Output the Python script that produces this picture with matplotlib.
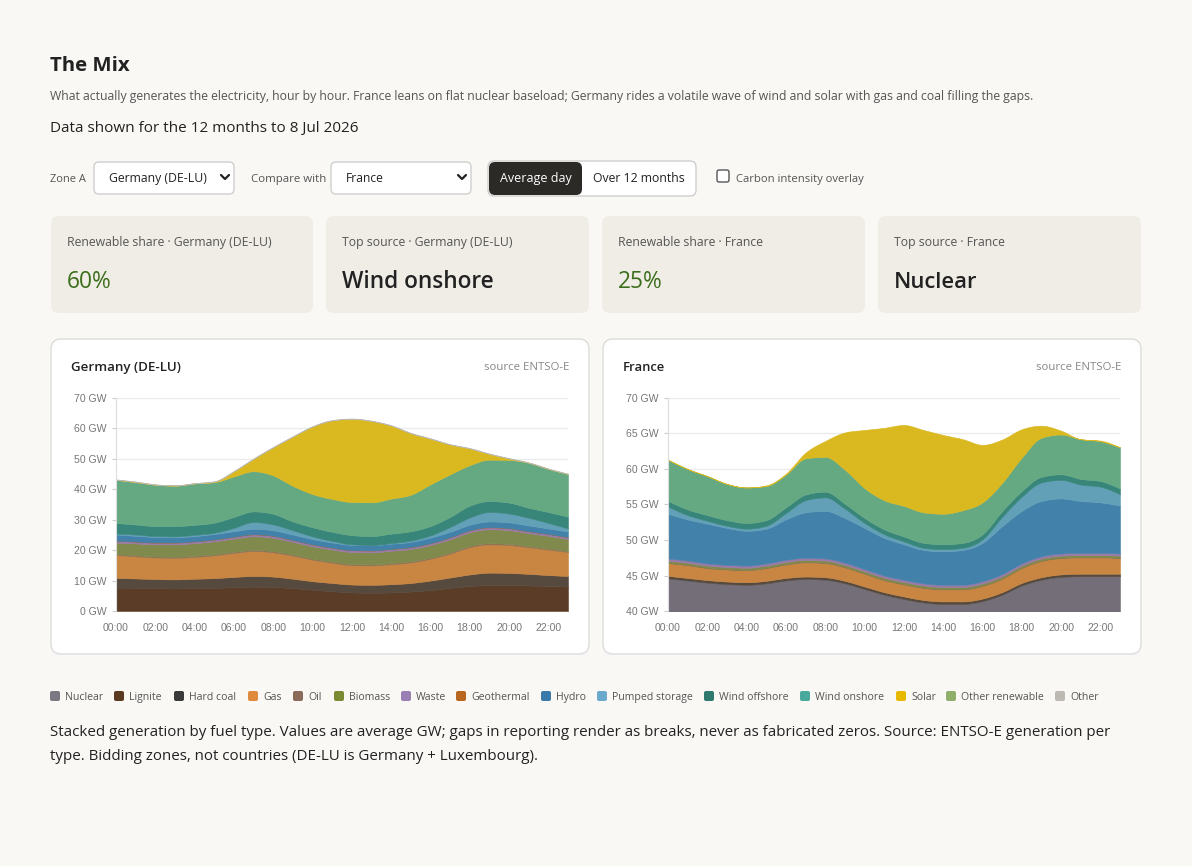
import numpy as np
import matplotlib
matplotlib.use("Agg")
import matplotlib.pyplot as plt
from matplotlib.patches import FancyBboxPatch
from matplotlib.ticker import FuncFormatter

# ---------------- data ----------------
HOURS = [0, 1, 2, 3, 4, 5, 6, 7, 8, 9, 10, 11, 12, 13, 14, 15, 16, 17, 18, 19, 20, 21, 22, 23]
HOUR_TICKS = [0, 2, 4, 6, 8, 10, 12, 14, 16, 18, 20, 22]
HOUR_LABELS = ["00:00", "02:00", "04:00", "06:00", "08:00", "10:00",
               "12:00", "14:00", "16:00", "18:00", "20:00", "22:00"]

FUELS = ["Nuclear", "Lignite", "Hard coal", "Gas", "Oil", "Biomass", "Waste",
         "Geothermal", "Hydro", "Pumped storage", "Wind offshore", "Wind onshore",
         "Solar", "Other renewable", "Other"]

# Germany (DE-LU), average GW by hour
de_nuclear = [0] * 24
de_lignite = [7.7, 7.6, 7.5, 7.4, 7.5, 7.6, 7.8, 8.0, 7.9, 7.5, 7.0, 6.5, 6.1, 6.0, 6.1, 6.4, 6.9, 7.6, 8.2, 8.5, 8.5, 8.4, 8.2, 8.0]
de_hard_coal = [3.2, 3.1, 3.0, 3.0, 3.1, 3.2, 3.4, 3.5, 3.4, 3.1, 2.8, 2.7, 2.6, 2.6, 2.7, 2.8, 3.1, 3.4, 3.8, 4.1, 4.0, 3.8, 3.6, 3.5]
de_gas = [7.5, 7.3, 7.1, 7.1, 7.2, 7.5, 7.9, 8.2, 8.0, 7.6, 7.1, 6.7, 6.4, 6.4, 6.6, 6.8, 7.2, 7.9, 9.0, 9.3, 9.2, 8.8, 8.4, 7.9]
de_oil = [0.3, 0.3, 0.3, 0.3, 0.3, 0.3, 0.3, 0.35, 0.35, 0.3, 0.3, 0.3, 0.3, 0.3, 0.3, 0.3, 0.3, 0.35, 0.35, 0.35, 0.35, 0.3, 0.3, 0.3]
de_biomass = [3.8, 3.9, 4.0, 4.1, 4.2, 4.3, 4.4, 4.5, 4.4, 4.2, 4.1, 4.0, 4.0, 4.0, 4.1, 4.1, 4.2, 4.3, 4.5, 4.6, 4.5, 4.3, 4.2, 4.0]
de_waste = [0.6, 0.6, 0.6, 0.6, 0.6, 0.6, 0.6, 0.65, 0.65, 0.6, 0.6, 0.6, 0.6, 0.6, 0.6, 0.6, 0.6, 0.65, 0.65, 0.65, 0.65, 0.6, 0.6, 0.6]
de_geothermal = [0.02, 0.02, 0.02, 0.02, 0.02, 0.02, 0.02, 0.02, 0.02, 0.02, 0.02, 0.02, 0.02, 0.02, 0.02, 0.02, 0.02, 0.02, 0.02, 0.02, 0.02, 0.02, 0.02, 0.02]
de_hydro = [2.0, 1.9, 1.8, 1.7, 1.7, 1.8, 1.8, 1.8, 1.8, 1.8, 1.7, 1.7, 1.7, 1.7, 1.7, 1.7, 1.8, 1.8, 1.8, 1.9, 1.9, 1.9, 1.8, 1.8]
de_pumped = [0.3, 0.4, 0.3, 0.3, 0.4, 0.4, 1.1, 2.2, 1.9, 1.4, 0.9, 0.5, 0.2, 0.1, 0.2, 0.4, 0.7, 1.6, 2.4, 3.1, 2.9, 2.5, 1.8, 1.0]
de_wind_off = [3.5, 3.3, 3.3, 3.4, 3.3, 3.3, 3.6, 3.5, 3.5, 2.9, 3.0, 3.0, 3.0, 2.9, 3.1, 3.1, 3.1, 3.3, 3.9, 3.6, 3.6, 3.3, 3.6, 3.9]
de_wind_on = [14.2, 13.9, 13.6, 13.3, 13.6, 13.3, 13.3, 13.2, 12.6, 11.7, 10.9, 10.8, 10.9, 11.1, 11.5, 12.0, 13.7, 14.0, 13.3, 13.6, 14.0, 14.8, 14.2, 14.0]
de_solar = [0, 0.1, 0, 0, 0, 0.2, 1.7, 4.1, 9.3, 16.2, 22.2, 25.8, 27.3, 26.7, 24.0, 20.2, 15.0, 9.8, 5.5, 1.9, 0.5, 0, 0, 0]
de_other_ren = [0] * 24
de_other = [0.15, 0.15, 0.15, 0.15, 0.15, 0.15, 0.15, 0.15, 0.15, 0.15, 0.15, 0.15, 0.15, 0.15, 0.15, 0.15, 0.15, 0.15, 0.15, 0.15, 0.15, 0.15, 0.15, 0.15]

# France, average GW by hour
fr_nuclear = [44.6, 44.3, 44.0, 43.8, 43.7, 43.9, 44.3, 44.5, 44.4, 43.9, 43.1, 42.3, 41.7, 41.2, 41.0, 41.0, 41.4, 42.3, 43.6, 44.4, 44.8, 44.9, 44.9, 44.9]
fr_lignite = [0] * 24
fr_hard_coal = [0.35, 0.35, 0.35, 0.35, 0.35, 0.35, 0.35, 0.35, 0.35, 0.35, 0.35, 0.35, 0.35, 0.35, 0.35, 0.35, 0.35, 0.35, 0.35, 0.35, 0.35, 0.35, 0.35, 0.35]
fr_gas = [1.8, 1.8, 1.7, 1.7, 1.7, 1.8, 1.9, 2.0, 2.0, 1.9, 1.8, 1.7, 1.7, 1.7, 1.7, 1.7, 1.8, 1.9, 2.1, 2.3, 2.3, 2.3, 2.3, 2.2]
fr_oil = [0.05, 0.05, 0.05, 0.05, 0.05, 0.05, 0.05, 0.05, 0.05, 0.05, 0.05, 0.05, 0.05, 0.05, 0.05, 0.05, 0.05, 0.05, 0.05, 0.05, 0.05, 0.05, 0.05, 0.05]
fr_biomass = [0.3, 0.3, 0.3, 0.3, 0.3, 0.3, 0.3, 0.3, 0.3, 0.3, 0.3, 0.3, 0.3, 0.3, 0.3, 0.3, 0.3, 0.3, 0.3, 0.3, 0.3, 0.3, 0.3, 0.3]
fr_waste = [0.3, 0.3, 0.3, 0.3, 0.3, 0.3, 0.3, 0.3, 0.3, 0.3, 0.3, 0.3, 0.3, 0.3, 0.3, 0.3, 0.3, 0.3, 0.3, 0.3, 0.3, 0.3, 0.3, 0.3]
fr_geothermal = [0] * 24
fr_hydro = [6.3, 5.8, 5.6, 5.2, 4.9, 4.9, 5.7, 6.4, 6.7, 6.3, 5.8, 5.3, 5.0, 4.7, 4.7, 4.9, 5.4, 6.75, 7.4, 7.8, 7.75, 7.3, 7.1, 6.75]
fr_pumped = [1.0, 0.6, 0.4, 0.3, 0.3, 0.4, 0.9, 1.7, 1.9, 1.3, 0.7, 0.5, 0.4, 0.3, 0.3, 0.3, 0.5, 1.3, 2.0, 2.6, 2.6, 2.3, 2.2, 1.6]
fr_wind_off = [0.8, 0.8, 0.8, 0.8, 0.8, 0.8, 0.8, 0.8, 0.8, 0.7, 0.7, 0.7, 0.7, 0.7, 0.7, 0.7, 0.7, 0.8, 0.8, 0.8, 0.8, 0.8, 0.8, 0.8]
fr_wind_on = [5.8, 5.7, 5.5, 5.1, 5.0, 4.8, 4.6, 5.1, 4.9, 4.8, 4.2, 4.1, 4.3, 4.3, 4.3, 4.6, 4.5, 4.0, 4.7, 5.5, 5.6, 5.6, 5.6, 5.8]
fr_solar = [0, 0, 0, 0, 0, 0.1, 0.15, 0.8, 2.25, 5.25, 8.2, 10.2, 11.4, 11.6, 11.1, 10.0, 8.1, 6.1, 4.0, 1.7, 0.55, 0, 0.1, 0]
fr_other_ren = [0] * 24
fr_other = [0] * 24

DE = [de_nuclear, de_lignite, de_hard_coal, de_gas, de_oil, de_biomass, de_waste,
      de_geothermal, de_hydro, de_pumped, de_wind_off, de_wind_on, de_solar,
      de_other_ren, de_other]
FR = [fr_nuclear, fr_lignite, fr_hard_coal, fr_gas, fr_oil, fr_biomass, fr_waste,
      fr_geothermal, fr_hydro, fr_pumped, fr_wind_off, fr_wind_on, fr_solar,
      fr_other_ren, fr_other]

RENEWABLE_SHARE = {"Germany (DE-LU)": "60%", "France": "25%"}
TOP_SOURCE = {"Germany (DE-LU)": "Wind onshore", "France": "Nuclear"}

# ---------------- styles ----------------
FILL = ["#736e78", "#5a3c27", "#56493d", "#c98642", "#8e6e58", "#808a4c", "#9a78a8",
        "#b8661e", "#4282aa", "#62a0b8", "#38857a", "#65a983", "#dab820",
        "#8fae6a", "#bdbab3"]
SWATCH = ["#7c7883", "#5c3a21", "#3a3a3a", "#dd8a3e", "#8a6a58", "#7a8a33", "#9a7fb5",
          "#b8661e", "#3a7aaa", "#6aa8cc", "#2e7a6e", "#4aa89c", "#e6b800",
          "#8fae6a", "#bdbab3"]

BG = "#f9f8f5"
CARD = "#f0ede6"
CAP = 0.36  # half cap-height as a fraction of the font size
plt.rcParams["font.family"] = ["Open Sans", "DejaVu Sans"]

W, H = 1192, 866
fig = plt.figure(figsize=(W / 100, H / 100), dpi=100, facecolor=BG)
bg = fig.add_axes([0, 0, 1, 1], zorder=0)
bg.set_xlim(0, W)
bg.set_ylim(H, 0)
bg.axis("off")
renderer = fig.canvas.get_renderer()


def fit_size(s, width, **kw):
    t = bg.text(0, 0, s, fontsize=10, **kw)
    w = t.get_window_extent(renderer=renderer).width
    t.remove()
    return 10 * width / w


def ctext(x, y, s, size, ha="left", **kw):
    """Place text so that the middle of its capitals sits at pixel row y."""
    px = size * 100 / 72
    return bg.text(x, y + CAP * px, s, fontsize=size, ha=ha, va="baseline", **kw)


def ftext(x, y, s, width, ha="left", **kw):
    size = fit_size(s, width, **kw)
    return ctext(x, y, s, size, ha=ha, **kw)


def rbox(x0, y0, x1, y1, fc, ec="none", r=8, lw=1.0, z=1):
    p = FancyBboxPatch((x0, y0), x1 - x0, y1 - y0,
                       boxstyle=f"round,pad=0,rounding_size={r}",
                       fc=fc, ec=ec, lw=lw, zorder=z)
    bg.add_patch(p)
    return p


def chevron(cx, cy):
    bg.plot([cx - 4, cx, cx + 4], [cy - 2, cy + 2, cy - 2], color="#222", lw=1.6,
            solid_capstyle="round", solid_joinstyle="round", zorder=3)


# ---------------- header ----------------
ftext(50, 64, "The Mix", 80, fontweight="bold", color="#222")
ftext(50, 96, "What actually generates the electricity, hour by hour. France leans on flat "
      "nuclear baseload; Germany rides a volatile wave of wind and solar with gas and "
      "coal filling the gaps.", 991, color="#555")
ftext(50, 127, "Data shown for the 12 months to 8 Jul 2026", 308, color="#222")

# ---------------- controls ----------------
ftext(50, 178, "Zone A", 36, color="#555")
rbox(94, 162, 234, 194, "white", "#cfcfcf", r=5)
ftext(109, 178, "Germany (DE-LU)", 98, color="#222", zorder=3)
chevron(225, 177)
ftext(251, 178, "Compare with", 75, color="#555")
rbox(331, 162, 471, 194, "white", "#cfcfcf", r=5)
ftext(346, 178, "France", 38, color="#222", zorder=3)
chevron(462, 177)
rbox(488, 161, 696, 196, "white", "#cfcfcf", r=6)
rbox(489, 162, 582, 195, "#2b2a27", r=6, z=2)
ftext(536, 178, "Average day", 71, ha="center", color="white", zorder=3)
ftext(639, 178, "Over 12 months", 92, ha="center", color="#222", zorder=3)
rbox(717, 170, 729, 182, "white", "#555", r=2, lw=1.0)
ftext(736, 178, "Carbon intensity overlay", 128, color="#555")

# ---------------- cards ----------------
cards = [(51, 313, "Renewable share · Germany (DE-LU)", RENEWABLE_SHARE["Germany (DE-LU)"], "#3b6e1a", 45),
         (326, 589, "Top source · Germany (DE-LU)", TOP_SOURCE["Germany (DE-LU)"], "#222", 152),
         (602, 865, "Renewable share · France", RENEWABLE_SHARE["France"], "#3b6e1a", 45),
         (878, 1141, "Top source · France", TOP_SOURCE["France"], "#222", 83)]
lab_size = fit_size("Renewable share · Germany (DE-LU)", 205)
for x0, x1, lab, val, col, vw in cards:
    rbox(x0, 216, x1, 313, CARD, r=8)
    ctext(x0 + 16, 242, lab, lab_size, color="#555")
    ftext(x0 + 16, 280, val, vw, color=col,
          fontweight="semibold" if col == "#222" else "normal")

# ---------------- charts ----------------
def monotone(x, y, xd):
    x = np.asarray(x, float)
    y = np.asarray(y, float)
    n = len(x)
    h = np.diff(x)
    s = np.diff(y) / h
    m = np.zeros(n)
    for i in range(1, n - 1):
        h0, h1 = h[i - 1], h[i]
        s0, s1 = s[i - 1], s[i]
        p = (s0 * h1 + s1 * h0) / (h0 + h1)
        m[i] = (np.sign(s0) + np.sign(s1)) * min(abs(s0), abs(s1), 0.5 * abs(p))
    m[0] = (3 * s[0] - m[1]) / 2
    m[-1] = (3 * s[-1] - m[-2]) / 2
    idx = np.clip(np.searchsorted(x, xd, side="right") - 1, 0, n - 2)
    t = (xd - x[idx]) / h[idx]
    h00 = 2 * t ** 3 - 3 * t ** 2 + 1
    h10 = t ** 3 - 2 * t ** 2 + t
    h01 = -2 * t ** 3 + 3 * t ** 2
    h11 = t ** 3 - t ** 2
    return h00 * y[idx] + h10 * h[idx] * m[idx] + h01 * y[idx + 1] + h11 * h[idx] * m[idx + 1]


def px_axes(x0, y0, x1, y1):
    return [x0 / W, 1 - y1 / H, (x1 - x0) / W, (y1 - y0) / H]


def draw_chart(panel_x0, panel_x1, title, series, ymin, ymax, ystep):
    rbox(panel_x0, 339, panel_x1, 654, "white", "#dcdcdc", r=10, lw=1.0)
    ftext(panel_x0 + 20, 366, title, 110 if "Germany" in title else 42,
          fontweight="semibold", color="#222")
    ftext(panel_x1 - 20, 366, "source ENTSO-E", 85, ha="right", color="#888")
    ax = fig.add_axes(px_axes(panel_x0 + 65, 398, panel_x0 + 517, 611), zorder=2)
    ax.set_facecolor("none")
    xd = np.linspace(HOURS[0], HOURS[-1], 600)
    cum = np.zeros(len(HOURS))
    lower = monotone(HOURS, cum, xd)
    for vals, col in zip(series, FILL):
        v = np.asarray(vals, float)
        if not np.any(v > 0):
            continue
        cum = cum + v
        upper = monotone(HOURS, cum, xd)
        ax.fill_between(xd, lower, upper, color=col, lw=0.4, ec=col, zorder=2)
        lower = upper
    ax.set_xlim(HOURS[0], HOURS[-1])
    ax.set_ylim(ymin, ymax)
    yt = np.arange(ymin, ymax + 0.1, ystep)
    ax.set_yticks(yt)
    ax.yaxis.set_major_formatter(FuncFormatter(lambda v, p: f"{v:.0f} GW"))
    ax.set_xticks(HOUR_TICKS)
    ax.set_xticklabels(HOUR_LABELS)
    ax.grid(axis="y", color="#ececec", lw=1.0, zorder=0)
    ax.set_axisbelow(True)
    for sp in ["top", "right", "bottom"]:
        ax.spines[sp].set_visible(False)
    ax.spines["left"].set_color("#dddddd")
    ax.tick_params(axis="y", length=3, color="#cccccc", pad=3.5,
                   labelsize=7.6, labelcolor="#777777")
    ax.tick_params(axis="x", length=0, pad=8.5, labelsize=7.6, labelcolor="#777777")
    for lab in ax.get_xticklabels() + ax.get_yticklabels():
        lab.set_fontfamily(["Liberation Sans", "DejaVu Sans"])
    return ax


draw_chart(51, 589, "Germany (DE-LU)", DE, 0, 70, 10)
draw_chart(603, 1141, "France", FR, 40, 70, 5)

# ---------------- legend ----------------
sw_x = [50, 114, 174, 248, 293, 334, 401, 456, 541, 597, 704, 800, 896, 946, 1055]
leg_size = fit_size("Pumped storage", 81)
for name, col, x in zip(FUELS, SWATCH, sw_x):
    rbox(x, 691, x + 10, 701, col, r=2)
    ctext(x + 15, 696, name, leg_size, color="#555")

# ---------------- footer ----------------
line1 = ("Stacked generation by fuel type. Values are average GW; gaps in reporting render "
         "as breaks, never as fabricated zeros. Source: ENTSO-E generation per")
line2 = "type. Bidding zones, not countries (DE-LU is Germany + Luxembourg)."
foot_size = fit_size(line1, 1062)
ctext(50, 731, line1, foot_size, color="#222")
ctext(50, 755, line2, foot_size, color="#222")

fig.savefig("out.png", dpi=100, facecolor=BG)
